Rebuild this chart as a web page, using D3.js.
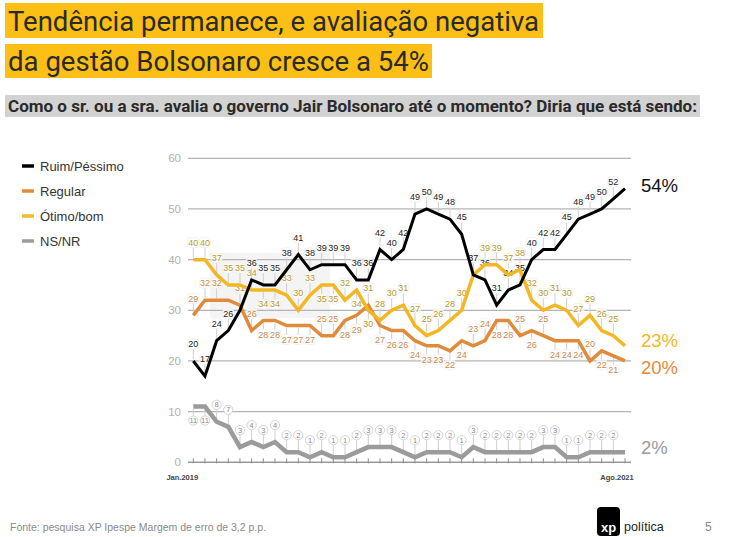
<!DOCTYPE html>
<html><head><meta charset="utf-8">
<script src="https://cdn.jsdelivr.net/npm/d3@7"></script>
<style>
html,body{margin:0;padding:0;background:#fff;}
svg{display:block;font-family:"Liberation Sans",Arial,sans-serif;}
</style></head>
<body>
<svg id="c" width="743" height="537"></svg>
<script>
// ---- data ----
const polls = d3.range(1, 39); // 38 surveys, Jan.2019 .. Ago.2021
const axisLabels = ["Jan.2019", "Ago.2021"];
const seriesNames = ["Ruim/Péssimo", "Regular", "Ótimo/bom", "NS/NR"];
const ruimPessimo = [20,17,24,26,30,36,35,35,38,41,38,39,39,39,36,36,42,40,42,49,50,49,48,45,37,36,31,34,35,40,42,42,45,48,49,50,52,54];
const regular     = [29,32,32,32,31,26,28,28,27,27,27,25,25,28,29,31,27,26,26,24,23,23,22,24,23,24,28,28,25,26,25,24,24,24,20,22,21,20];
const otimoBom    = [40,40,37,35,35,34,34,34,33,30,33,35,35,32,34,30,28,30,31,27,25,26,28,30,37,39,39,37,38,32,30,31,30,27,29,26,25,23];
const nsnr        = [11,11,8,7,3,4,3,4,2,2,1,2,1,1,2,3,3,3,2,1,2,2,2,1,3,2,2,2,2,2,3,3,1,1,2,2,2,2];
const yTicks = [0,10,20,30,40,50,60];

// label placement (which point labels sit below the line / are hidden)
const hidden = {black:[4,37], regular:[3,37], yellow:[37], gray:[37]};
const below = {
  black:[],
  regular:[6,7,8,9,10,13,14,16,17,18,19,20,21,22,23,26,27,29,31,32,33,35,36],
  yellow:[6,7,11,12,14,15],
  gray:[0,1]
};

const series = [
  {key:"gray",   name:seriesNames[3], values:nsnr,        color:"#9b9b9b", width:4.5, lab:"#8a8a8a", end:"2%"},
  {key:"regular",name:seriesNames[1], values:regular,     color:"#e08a3b", width:3.5, lab:"#c98a4e", end:"20%"},
  {key:"yellow", name:seriesNames[2], values:otimoBom,    color:"#f2b722", width:3.5, lab:"#b59a2c", end:"23%"},
  {key:"black",  name:seriesNames[0], values:ruimPessimo, color:"#000000", width:3,   lab:"#222222", end:"54%"}
];

const svg = d3.select("#c");
const x = d3.scalePoint().domain(polls).range([193.3, 625]);
const y = d3.scaleLinear().domain([0, 60]).range([462.3, 158.3]);
const gx0 = 188, gx1 = 631;

// ---- title ----
svg.append("rect").attr("x",5).attr("y",3).attr("width",538).attr("height",35).attr("fill","#fbbf15");
svg.append("rect").attr("x",5).attr("y",44).attr("width",427).attr("height",34).attr("fill","#fbbf15");
svg.append("text").attr("x",8).attr("y",31).attr("font-family","Roboto").attr("font-size",28)
  .attr("fill","#2a2a2a").attr("textLength",531).attr("lengthAdjust","spacingAndGlyphs")
  .text("Tendência permanece, e avaliação negativa");
svg.append("text").attr("x",8).attr("y",71).attr("font-family","Roboto").attr("font-size",28)
  .attr("fill","#2a2a2a").attr("textLength",421).attr("lengthAdjust","spacingAndGlyphs")
  .text("da gestão Bolsonaro cresce a 54%");
svg.append("rect").attr("x",5).attr("y",95).attr("width",695).attr("height",22).attr("fill","#d2d2d2");
svg.append("text").attr("x",8).attr("y",112).attr("font-family","Roboto").attr("font-weight","bold").attr("font-size",16.5)
  .attr("fill","#2a2a2a").attr("textLength",689).attr("lengthAdjust","spacingAndGlyphs")
  .text("Como o sr. ou a sra. avalia o governo Jair Bolsonaro até o momento? Diria que está sendo:");

// ---- faint watermark block ----
svg.append("rect").attr("x",210).attr("y",253).attr("width",120).attr("height",65).attr("fill","#f4f4f4");

// ---- grid ----
const grid = svg.append("g");
yTicks.filter(v => v > 0).forEach(v => {
  grid.append("line").attr("x1",gx0).attr("x2",gx1).attr("y1",y(v)).attr("y2",y(v))
    .attr("stroke","#b4b4b4").attr("stroke-width",1.3);
});
yTicks.forEach(v => {
  grid.append("text").attr("x",181).attr("y",y(v)).attr("dy","0.36em").attr("text-anchor","end")
    .attr("font-size",11.5).attr("fill","#b0b0b0").text(v);
});
grid.append("line").attr("x1",gx0).attr("x2",gx1).attr("y1",y(0)).attr("y2",y(0))
  .attr("stroke","#9a9a9a").attr("stroke-width",1.5);
polls.forEach(p => {
  grid.append("line").attr("x1",x(p)).attr("x2",x(p)).attr("y1",y(0)-4).attr("y2",y(0)+1)
    .attr("stroke","#8a8a8a").attr("stroke-width",1);
});
svg.append("text").attr("x",x(polls[0])-11).attr("y",480).attr("text-anchor","middle")
  .attr("font-size",7.5).attr("font-weight","bold").attr("fill","#444").text(axisLabels[0]);
svg.append("text").attr("x",x(polls[polls.length-1])-8).attr("y",480).attr("text-anchor","middle")
  .attr("font-size",7.5).attr("font-weight","bold").attr("fill","#444").text(axisLabels[1]);

// ---- labels (leaders first) ----
const labG = svg.append("g");
const lineG = svg.append("g");
const line = d3.line().x((d,i) => x(polls[i])).y(d => y(d));

series.forEach(s => {
  s.values.forEach((v,i) => {
    if (hidden[s.key].includes(i)) return;
    const px = x(polls[i]), py = y(v);
    const isBelow = below[s.key].includes(i);
    const ly = isBelow ? py + 14 : py - 17;
    labG.append("line").attr("x1",px).attr("x2",px)
      .attr("y1", isBelow ? py + 2 : py - 2).attr("y2", isBelow ? ly - 5 : ly + 5)
      .attr("stroke","#cfcfcf").attr("stroke-width",1);
    if (s.key === "gray") {
      labG.append("circle").attr("cx",px).attr("cy",ly).attr("r",4.6)
        .attr("fill","#fff").attr("stroke","#c8c8c8").attr("stroke-width",0.8);
    } else {
      labG.append("rect").attr("x",px-5.6).attr("y",ly-5).attr("width",11.2).attr("height",10).attr("rx",3)
        .attr("fill","#fff").attr("fill-opacity",0.7).attr("stroke","#ebebeb").attr("stroke-width",0.6);
    }
    labG.append("text").attr("x",px).attr("y",ly).attr("dy","0.35em").attr("text-anchor","middle")
      .attr("font-size", s.key === "gray" ? 7.5 : 9).attr("fill",s.lab).text(v);
  });
});

series.forEach(s => {
  lineG.append("path").datum(s.values).attr("d",line).attr("fill","none")
    .attr("stroke",s.color).attr("stroke-width",s.width)
    .attr("stroke-linejoin","miter").attr("stroke-linecap","butt");
});

// ---- end labels ----
const endY = {black:-3, yellow:-5, regular:6, gray:-5};
series.forEach(s => {
  const last = s.values[s.values.length-1];
  svg.append("text").attr("x",641).attr("y",y(last) + endY[s.key]).attr("dy","0.36em")
    .attr("font-size",18.5).attr("fill", s.key === "black" ? "#111" : s.color).text(s.end);
});

// ---- legend ----
const legOrder = ["black","regular","yellow","gray"];
legOrder.forEach((k,i) => {
  const s = series.find(d => d.key === k);
  const ly = 166 + i*25;
  svg.append("line").attr("x1",22).attr("x2",34).attr("y1",ly).attr("y2",ly)
    .attr("stroke",s.color).attr("stroke-width",3.5);
  svg.append("text").attr("x",40).attr("y",ly).attr("dy","0.36em").attr("font-size",13)
    .attr("fill","#333").text(s.name);
});

// ---- footer ----
svg.append("text").attr("x",10).attr("y",531).attr("font-size",10.5).attr("fill","#8a8a8a")
  .text("Fonte: pesquisa XP Ipespe Margem de erro de 3,2 p.p.");
svg.append("rect").attr("x",597).attr("y",507).attr("width",23).attr("height",29).attr("rx",4).attr("fill","#000");
svg.append("text").attr("x",608.5).attr("y",532).attr("text-anchor","middle").attr("font-size",13)
  .attr("font-weight","bold").attr("fill","#fff").text("xp");
svg.append("text").attr("x",624).attr("y",531).attr("font-size",12.5).attr("fill","#222").text("política");
svg.append("text").attr("x",705).attr("y",531).attr("font-size",12).attr("fill","#888").text("5");
</script>
</body></html>
